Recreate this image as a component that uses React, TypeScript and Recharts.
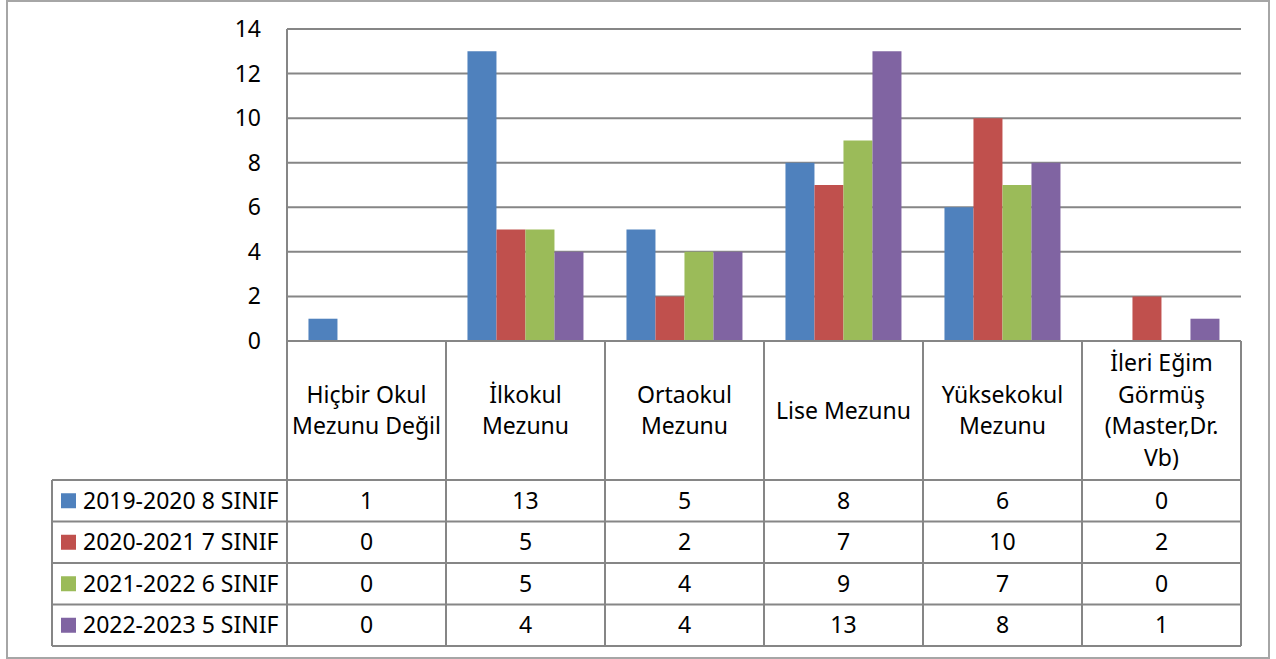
import React from "react";
import { BarChart, Bar, XAxis, YAxis, CartesianGrid } from "recharts";

const categories = [
  "Hiçbir Okul Mezunu Değil",
  "İlkokul Mezunu",
  "Ortaokul Mezunu",
  "Lise Mezunu",
  "Yüksekokul Mezunu",
  "İleri Eğim Görmüş (Master,Dr. Vb)",
];
const categoryLines = [
  ["Hiçbir Okul", "Mezunu Değil"],
  ["İlkokul", "Mezunu"],
  ["Ortaokul", "Mezunu"],
  ["Lise Mezunu"],
  ["Yüksekokul", "Mezunu"],
  ["İleri Eğim", "Görmüş", "(Master,Dr.", "Vb)"],
];
const seriesNames = ["2019-2020 8 SINIF", "2020-2021 7 SINIF", "2021-2022 6 SINIF", "2022-2023 5 SINIF"];
const seriesColors = ["#4F81BD", "#C0504D", "#9BBB59", "#8064A2"];
const s2019 = [1, 13, 5, 8, 6, 0];
const s2020 = [0, 5, 2, 7, 10, 2];
const s2021 = [0, 5, 4, 9, 7, 0];
const s2022 = [0, 4, 4, 13, 8, 1];
const seriesValues = [s2019, s2020, s2021, s2022];
const yTicks = [0, 2, 4, 6, 8, 10, 12, 14];

const data = categories.map((c, i) => ({
  name: c,
  s0: s2019[i],
  s1: s2020[i],
  s2: s2021[i],
  s3: s2022[i],
}));

const FONT = "'Noto Sans', sans-serif";
const FS = 23;
const LINE = "#868686";
const HEADER_H = 139;
const ROW_H = 41.5;
const LEGEND_W = 235;

const TableTick = (props: any) => {
  const { x, y, payload } = props;
  const i: number = payload.index;
  const hw: number = payload.offset || 79.5;
  const y0 = y;
  const left = x - hw;
  const right = x + hw;
  const lines = categoryLines[i];
  const lh = 31.7;
  const headerMid = y0 + HEADER_H / 2;
  const els: any[] = [];
  els.push(<line key="vr" x1={right} x2={right} y1={y0} y2={y0 + HEADER_H + ROW_H * 4} stroke={LINE} strokeWidth={2} />);
  if (i === 0) {
    els.push(<line key="vl" x1={left} x2={left} y1={y0} y2={y0 + HEADER_H + ROW_H * 4} stroke={LINE} strokeWidth={2} />);
    const lx = left - LEGEND_W;
    els.push(<line key="lvl" x1={lx} x2={lx} y1={y0 + HEADER_H} y2={y0 + HEADER_H + ROW_H * 4} stroke={LINE} strokeWidth={2} />);
    for (let k = 0; k <= 4; k++) {
      const yy = y0 + HEADER_H + k * ROW_H;
      els.push(<line key={"lh" + k} x1={lx} x2={left} y1={yy} y2={yy} stroke={LINE} strokeWidth={2} />);
    }
    seriesNames.forEach((n, k) => {
      const cy = y0 + HEADER_H + (k + 0.5) * ROW_H;
      els.push(<rect key={"sq" + k} x={lx + 9} y={cy - 7.5} width={15} height={15} fill={seriesColors[k]} />);
      els.push(
        <text key={"sn" + k} x={lx + 31} y={cy + 8} fontFamily={FONT} fontSize={FS} fill="#000">
          {n}
        </text>
      );
    });
  }
  for (let k = 0; k <= 4; k++) {
    const yy = y0 + HEADER_H + k * ROW_H;
    els.push(<line key={"h" + k} x1={left} x2={right} y1={yy} y2={yy} stroke={LINE} strokeWidth={2} />);
  }
  lines.forEach((t, j) => {
    const cy = headerMid + (j - (lines.length - 1) / 2) * lh;
    els.push(
      <text key={"c" + j} x={x} y={cy + 8} textAnchor="middle" fontFamily={FONT} fontSize={FS} fill="#000">
        {t}
      </text>
    );
  });
  seriesValues.forEach((vals, k) => {
    const cy = y0 + HEADER_H + (k + 0.5) * ROW_H;
    els.push(
      <text key={"v" + k} x={x} y={cy + 8} textAnchor="middle" fontFamily={FONT} fontSize={FS} fill="#000">
        {vals[i]}
      </text>
    );
  });
  return <g>{els}</g>;
};

const YTick = (props: any) => {
  const { x, y, payload } = props;
  return (
    <text x={x} y={y + 8} textAnchor="end" fontFamily={FONT} fontSize={FS} fill="#000">
      {payload.value}
    </text>
  );
};

export default function App() {
  return (
    <div style={{ position: "absolute", left: 0, top: 0, width: 1276, height: 659, background: "#fff" }}>
      <div
        style={{
          position: "absolute",
          left: 6,
          top: 0,
          width: 1264,
          height: 659,
          boxSizing: "border-box",
          border: "2px solid #a6a6a6",
        }}
      />
      <div style={{ position: "absolute", left: 0, top: 0 }}>
        <BarChart
          width={1276}
          height={659}
          data={data}
          margin={{ top: 29, right: 35, left: 0, bottom: 13 }}
          barCategoryGap="13.5%"
          barGap={0}
        >
          <CartesianGrid vertical={false} stroke={LINE} strokeWidth={2} />
          <YAxis
            width={287}
            domain={[0, 14]}
            ticks={yTicks}
            interval={0}
            tickLine={false}
            tickSize={0}
            tickMargin={26}
            axisLine={{ stroke: LINE, strokeWidth: 2 }}
            tick={<YTick />}
          />
          <XAxis
            dataKey="name"
            height={305}
            interval={0}
            tickLine={false}
            tickSize={0}
            tickMargin={0}
            axisLine={{ stroke: LINE, strokeWidth: 2 }}
            tick={<TableTick />}
          />
          <Bar dataKey="s0" fill={seriesColors[0]} isAnimationActive={false} />
          <Bar dataKey="s1" fill={seriesColors[1]} isAnimationActive={false} />
          <Bar dataKey="s2" fill={seriesColors[2]} isAnimationActive={false} />
          <Bar dataKey="s3" fill={seriesColors[3]} isAnimationActive={false} />
        </BarChart>
      </div>
    </div>
  );
}
